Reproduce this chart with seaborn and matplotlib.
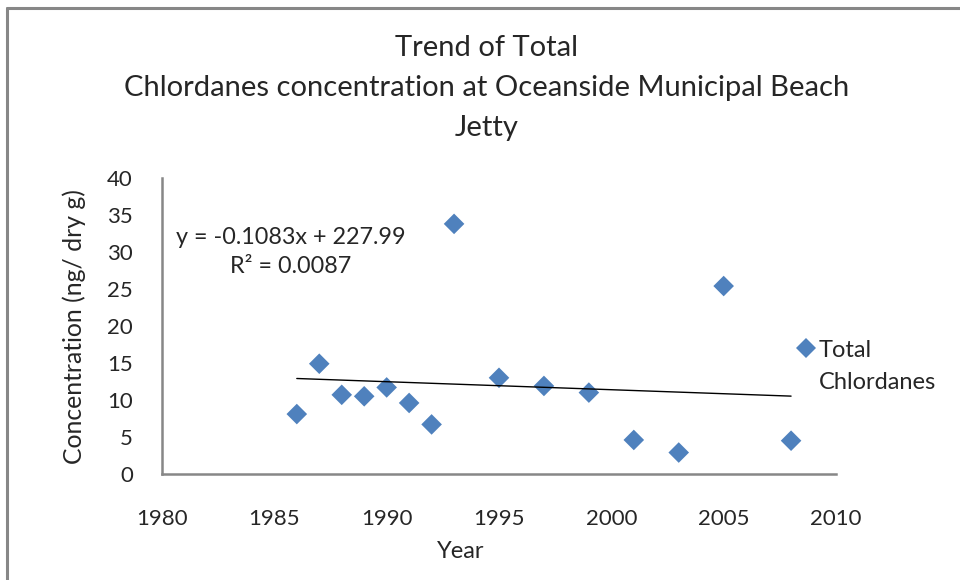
import numpy as np
import pandas as pd
import matplotlib
matplotlib.use('Agg')
import matplotlib.pyplot as plt
from matplotlib.lines import Line2D
import seaborn as sns

# Values
years = [1986, 1987, 1988, 1989, 1990, 1991, 1992, 1993, 1995, 1997, 1999, 2001, 2003, 2005, 2008]
conc = [8.1, 14.9, 10.7, 10.5, 11.7, 9.6, 6.7, 33.8, 13.0, 11.9, 11.0, 4.6, 2.9, 25.4, 4.5]
trend_slope = -0.1083
trend_intercept = 227.99
trend_r2 = 0.0087
x_ticks = [1980, 1985, 1990, 1995, 2000, 2005, 2010]
y_ticks = [0, 5, 10, 15, 20, 25, 30, 35, 40]

SERIES = 'Total\nChlordanes'
BLUE = '#4F81BD'
GREY = '#878787'

sns.set_style('white')
plt.rcParams['font.family'] = ['Lato', 'DejaVu Sans']

df = pd.DataFrame({'Year': years, 'Conc': conc, 'Series': SERIES})
trend_x = np.array([min(years), max(years)])
trend = pd.DataFrame({'Year': trend_x, 'Fit': trend_slope * trend_x + trend_intercept})

fig = plt.figure(figsize=(9.6, 5.8), dpi=100)
ax = fig.add_axes([162 / 960, 1 - 474 / 580, 674 / 960, 296 / 580])

sns.lineplot(data=trend, x='Year', y='Fit', color='black', linewidth=1.0, ax=ax, legend=False)
sns.scatterplot(data=df, x='Year', y='Conc', hue='Series', palette=[BLUE], marker='D',
                s=110, linewidth=0, ax=ax)

ax.set_xlim(1980, 2010)
ax.set_ylim(0, 40)
ax.set_xticks(x_ticks)
ax.set_yticks(y_ticks)
ax.tick_params(axis='x', length=0, pad=25, labelsize=16)
ax.tick_params(axis='y', length=0, pad=21, labelsize=16)
for side in ['top', 'right']:
    ax.spines[side].set_visible(False)
for side in ['left', 'bottom']:
    ax.spines[side].set_color(GREY)
    ax.spines[side].set_linewidth(1.8)

ax.set_xlabel('Year', fontsize=17)
ax.set_ylabel('Concentration (ng/ dry g)', fontsize=17.8)
ax.xaxis.set_label_coords(0.443, -0.225)
ax.yaxis.set_label_coords(-0.113, 0.497)

ax.text(0.191, 0.75, f'y = {trend_slope}x + {trend_intercept}\nR² = {trend_r2}',
        transform=ax.transAxes, ha='center', va='center', fontsize=16.8, linespacing=1.45)

leg = ax.legend(loc='upper left', bbox_to_anchor=(0.9237, 0.494), frameon=False,
                fontsize=17, handlelength=0.8, handletextpad=0.15, borderpad=0,
                labelspacing=0)
leg.get_texts()[0].set_linespacing(1.7)
# marker sits beside the first line of the label, as in the reference
for col in leg._legend_handle_box.get_children():
    for row in col.get_children():
        row.align = 'top'

fig.suptitle('Trend of Total\nChlordanes concentration at Oceanside Municipal Beach\nJetty',
             x=0.507, y=1 - 35 / 580, va='top', fontsize=21, linespacing=1.67)

fig.add_artist(Line2D([0.0078, 0.0078], [0, 0.987], color=GREY, linewidth=2.2,
                      transform=fig.transFigure))
fig.add_artist(Line2D([0.0078, 1], [0.987, 0.987], color=GREY, linewidth=2.2,
                      transform=fig.transFigure))

plt.savefig('out.png', dpi=100)
